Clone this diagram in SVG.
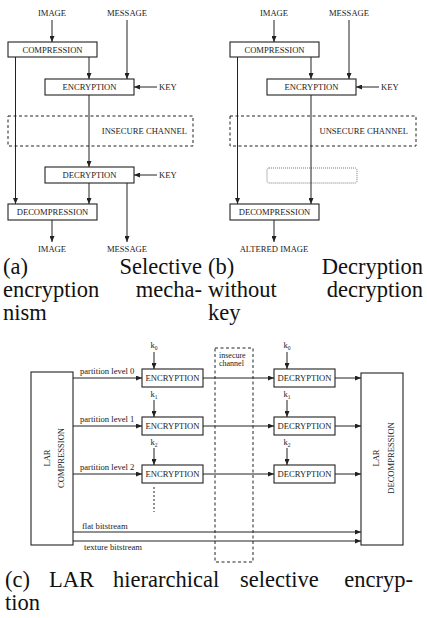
<svg xmlns="http://www.w3.org/2000/svg" width="427" height="618" viewBox="0 0 427 618">
<style>
  .bg{fill:#fff}
  .box{fill:#fff;stroke:#222;stroke-width:1.1}
  .dash{fill:none;stroke:#222;stroke-width:1;stroke-dasharray:3 2.5}
  .dot{fill:none;stroke:#555;stroke-width:0.8;stroke-dasharray:1 1}
  .ln{fill:none;stroke:#222;stroke-width:1}
  .arr{fill:none;stroke:#222;stroke-width:1;marker-end:url(#ah)}
  .t{font-family:"Liberation Serif",serif;font-size:8.6px;fill:#222}
  .c{text-anchor:middle}
  .e{text-anchor:end}
  .cap{font-family:"Liberation Serif",serif;font-size:22.5px;fill:#111}
</style>
<defs>
  <marker id="ah" markerUnits="userSpaceOnUse" markerWidth="7" markerHeight="5" refX="6" refY="2.5" orient="auto">
    <path d="M0,0 L6,2.5 L0,5 z" fill="#222"/>
  </marker>
</defs>
<rect class="bg" x="0" y="0" width="427" height="618"/>

<!-- Panel (a) -->
<g id="a-image-in"><text class="t c" x="52" y="16">IMAGE</text></g>
<g id="a-message-in"><text class="t c" x="127" y="16">MESSAGE</text></g>
<g id="a-compression"><rect class="box" x="8" y="42" width="89" height="15"/><text class="t c" x="52.5" y="52.5">COMPRESSION</text></g>
<g id="a-encryption"><rect class="box" x="45" y="79" width="89" height="16"/><text class="t c" x="89.5" y="90">ENCRYPTION</text></g>
<g id="a-key1"><text class="t" x="159" y="90">KEY</text></g>
<g id="a-channel"><rect class="dash" x="8" y="116" width="185" height="30"/><text class="t e" x="187" y="134">INSECURE CHANNEL</text></g>
<g id="a-decryption"><rect class="box" x="45" y="167" width="89" height="16"/><text class="t c" x="89.5" y="178">DECRYPTION</text></g>
<g id="a-key2"><text class="t" x="159" y="178">KEY</text></g>
<g id="a-decompression"><rect class="box" x="8" y="204" width="89" height="16"/><text class="t c" x="52.5" y="215">DECOMPRESSION</text></g>
<g id="a-image-out"><text class="t c" x="52" y="252">IMAGE</text></g>
<g id="a-message-out"><text class="t c" x="127" y="252">MESSAGE</text></g>

<!-- Panel (b) -->
<g id="b-image-in"><text class="t c" x="274" y="16">IMAGE</text></g>
<g id="b-message-in"><text class="t c" x="349" y="16">MESSAGE</text></g>
<g id="b-compression"><rect class="box" x="230" y="42" width="89" height="15"/><text class="t c" x="274.5" y="52.5">COMPRESSION</text></g>
<g id="b-encryption"><rect class="box" x="267" y="79" width="89" height="16"/><text class="t c" x="311.5" y="90">ENCRYPTION</text></g>
<g id="b-key"><text class="t" x="381" y="90">KEY</text></g>
<g id="b-channel"><rect class="dash" x="230" y="116" width="186" height="30"/><text class="t e" x="408" y="134">UNSECURE CHANNEL</text></g>
<g id="b-missing"><rect class="dot" x="267" y="168" width="90" height="15" rx="2"/></g>
<g id="b-decompression"><rect class="box" x="230" y="204" width="89" height="16"/><text class="t c" x="274.5" y="215">DECOMPRESSION</text></g>
<g id="b-altered"><text class="t c" x="274" y="252">ALTERED IMAGE</text></g>

<!-- Panel (c) -->
<g id="c-lar-comp"><rect class="box" x="31" y="372" width="42" height="173"/>
  <text class="t c" transform="translate(50,458) rotate(-90)">LAR</text>
  <text class="t c" transform="translate(64,458) rotate(-90)">COMPRESSION</text></g>
<g id="c-enc0"><rect class="box" x="142" y="369" width="61" height="18"/><text class="t c" x="172.5" y="381">ENCRYPTION</text></g>
<g id="c-enc1"><rect class="box" x="142" y="417" width="61" height="18"/><text class="t c" x="172.5" y="429">ENCRYPTION</text></g>
<g id="c-enc2"><rect class="box" x="142" y="465" width="61" height="18"/><text class="t c" x="172.5" y="477">ENCRYPTION</text></g>
<g id="c-dec0"><rect class="box" x="274" y="369" width="61" height="18"/><text class="t c" x="304.5" y="381">DECRYPTION</text></g>
<g id="c-dec1"><rect class="box" x="274" y="417" width="61" height="18"/><text class="t c" x="304.5" y="429">DECRYPTION</text></g>
<g id="c-dec2"><rect class="box" x="274" y="465" width="61" height="18"/><text class="t c" x="304.5" y="477">DECRYPTION</text></g>
<g id="c-lar-decomp"><rect class="box" x="361" y="373" width="42" height="172"/>
  <text class="t c" transform="translate(379,458) rotate(-90)">LAR</text>
  <text class="t c" transform="translate(394,458) rotate(-90)">DECOMPRESSION</text></g>
<g id="c-channel"><rect class="dash" x="215" y="348" width="38" height="214"/>
  <text class="t" x="219" y="358" style="font-size:8px">insecure</text>
  <text class="t" x="219" y="366" style="font-size:8px">channel</text></g>
<g id="c-keys">
  <text class="t c" x="154" y="348">k<tspan dy="2" font-size="5.5">0</tspan></text>
  <text class="t c" x="287" y="348">k<tspan dy="2" font-size="5.5">0</tspan></text>
  <text class="t c" x="154" y="397">k<tspan dy="2" font-size="5.5">1</tspan></text>
  <text class="t c" x="287" y="397">k<tspan dy="2" font-size="5.5">1</tspan></text>
  <text class="t c" x="154" y="445">k<tspan dy="2" font-size="5.5">2</tspan></text>
  <text class="t c" x="287" y="445">k<tspan dy="2" font-size="5.5">2</tspan></text>
</g>
<g id="c-labels">
  <text class="t" x="80" y="374">partition level 0</text>
  <text class="t" x="80" y="422">partition level 1</text>
  <text class="t" x="80" y="470">partition level 2</text>
  <text class="t" x="82" y="529">flat bitstream</text>
  <text class="t" x="84" y="550">texture bitstream</text>
</g>

<g id="connectors">
  <!-- a -->
  <line class="arr" x1="52" y1="20" x2="52" y2="42"/>
  <line class="arr" x1="89" y1="57" x2="89" y2="79"/>
  <line class="arr" x1="127" y1="20" x2="127" y2="79"/>
  <line class="arr" x1="157" y1="87" x2="134" y2="87"/>
  <line class="arr" x1="89" y1="95" x2="89" y2="167"/>
  <line class="arr" x1="157" y1="175" x2="134" y2="175"/>
  <line class="arr" x1="15.5" y1="57" x2="15.5" y2="204"/>
  <line class="arr" x1="89" y1="183" x2="89" y2="204"/>
  <line class="arr" x1="127" y1="183" x2="127" y2="242"/>
  <line class="arr" x1="52" y1="220" x2="52" y2="242"/>
  <!-- b -->
  <line class="arr" x1="274" y1="20" x2="274" y2="42"/>
  <line class="arr" x1="311" y1="57" x2="311" y2="79"/>
  <line class="arr" x1="349" y1="20" x2="349" y2="79"/>
  <line class="arr" x1="379" y1="87" x2="356" y2="87"/>
  <line class="arr" x1="311" y1="95" x2="311" y2="204"/>
  <line class="arr" x1="237.5" y1="57" x2="237.5" y2="204"/>
  <line class="arr" x1="274" y1="220" x2="274" y2="242"/>
  <!-- c -->
  <line class="arr" x1="73" y1="378" x2="142" y2="378"/>
  <line class="arr" x1="73" y1="426" x2="142" y2="426"/>
  <line class="arr" x1="73" y1="474" x2="142" y2="474"/>
  <line class="arr" x1="203" y1="378" x2="274" y2="378"/>
  <line class="arr" x1="203" y1="426" x2="274" y2="426"/>
  <line class="arr" x1="203" y1="474" x2="274" y2="474"/>
  <line class="arr" x1="335" y1="378" x2="361" y2="378"/>
  <line class="arr" x1="335" y1="426" x2="361" y2="426"/>
  <line class="arr" x1="335" y1="474" x2="361" y2="474"/>
  <line class="arr" x1="154" y1="352" x2="154" y2="369"/>
  <line class="arr" x1="287" y1="352" x2="287" y2="369"/>
  <line class="arr" x1="154" y1="400" x2="154" y2="417"/>
  <line class="arr" x1="287" y1="400" x2="287" y2="417"/>
  <line class="arr" x1="154" y1="448" x2="154" y2="465"/>
  <line class="arr" x1="287" y1="448" x2="287" y2="465"/>
  <line class="ln" x1="154" y1="487" x2="154" y2="512" stroke-dasharray="2 2"/>
  <line class="arr" x1="73" y1="532" x2="361" y2="532"/>
  <line class="arr" x1="73" y1="541" x2="361" y2="541"/>
</g>

<!-- Captions -->
<g id="captions">
  <text class="cap" x="3" y="274">(a)</text>
  <text class="cap e" x="202" y="274">Selective</text>
  <text class="cap" x="3" y="297">encryption</text>
  <text class="cap e" x="202" y="297">mecha-</text>
  <text class="cap" x="3" y="320">nism</text>
  <text class="cap" x="208" y="274">(b)</text>
  <text class="cap e" x="423" y="274">Decryption</text>
  <text class="cap" x="208" y="297">without</text>
  <text class="cap e" x="423" y="297">decryption</text>
  <text class="cap" x="208" y="320">key</text>
  <text class="cap" y="587"><tspan x="5">(c)</tspan><tspan x="49">LAR</tspan><tspan x="113">hierarchical</tspan><tspan x="240">selective</tspan><tspan x="413" text-anchor="end">encryp-</tspan></text>
  <text class="cap" x="5" y="610">tion</text>
</g>
</svg>
